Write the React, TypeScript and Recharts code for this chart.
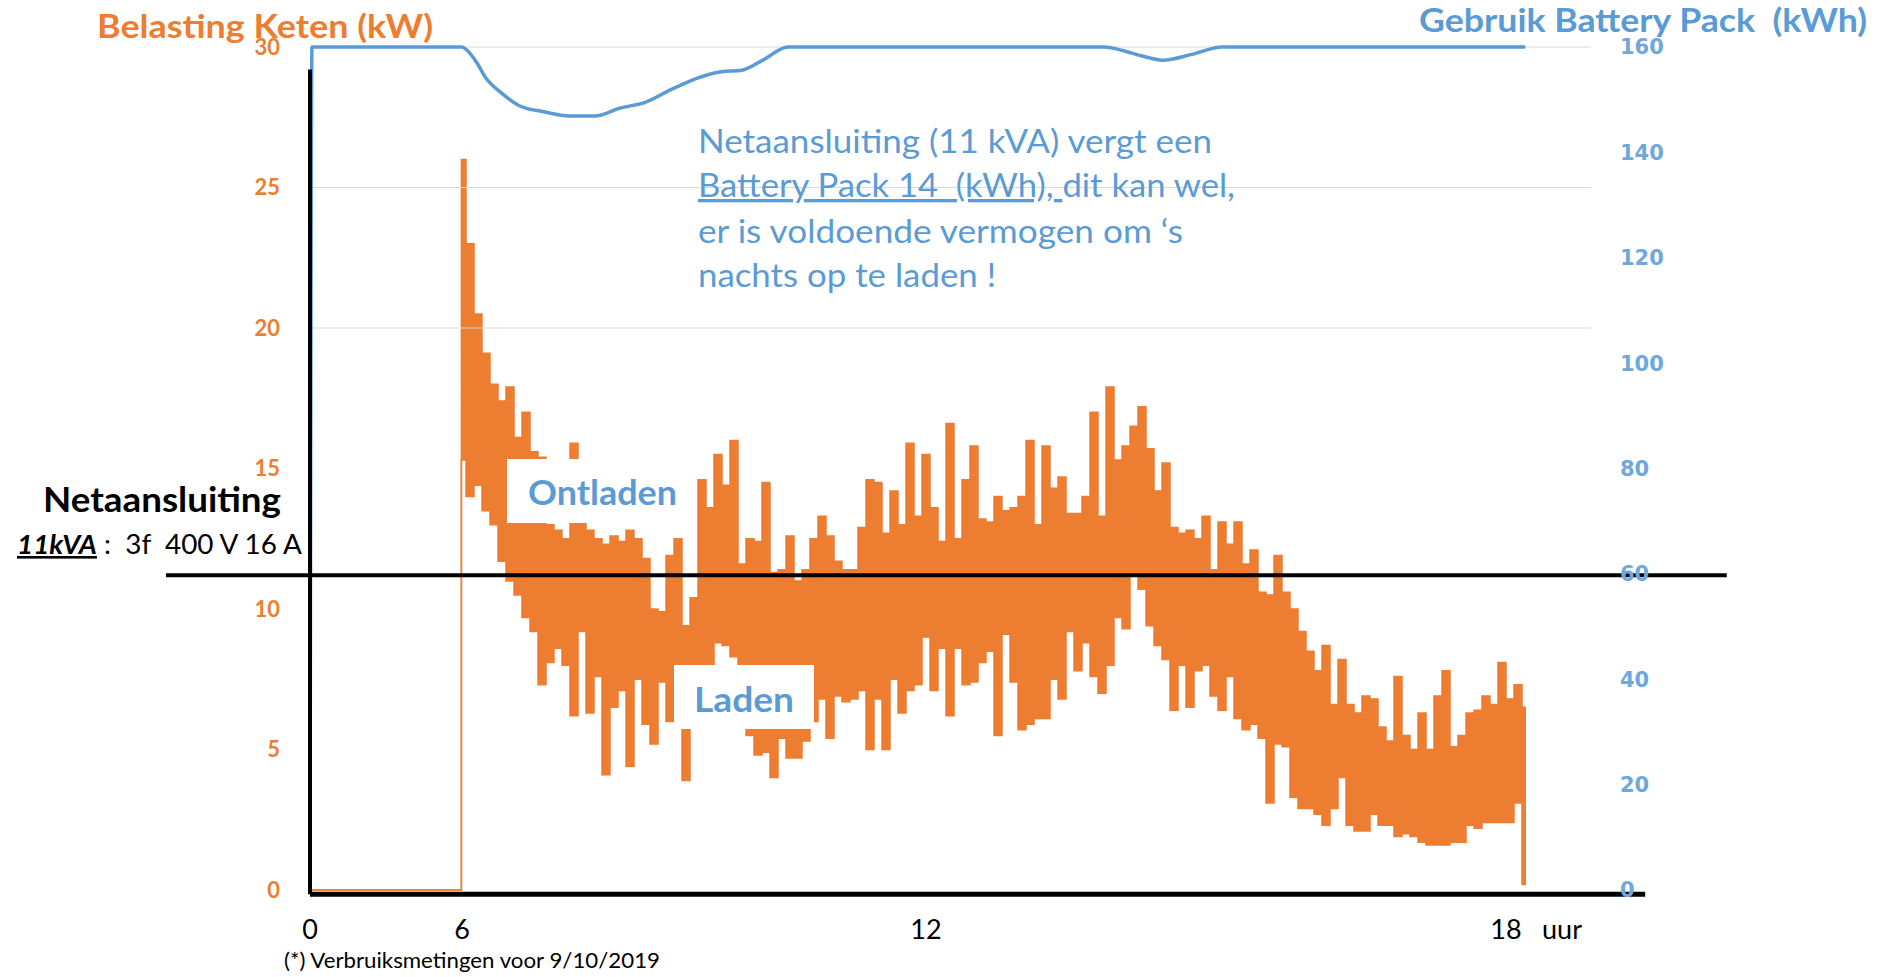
import React from "react";
import { ComposedChart, Area, Line, XAxis, YAxis, ReferenceLine } from "recharts";

const ORANGE = "#ED7D31";
const BLUE = "#5B9BD5";
const BLUE_TICK = "#6FA8DC";

// x = plot column step of the log; load is measured from step 19 (06:00) on
const loadStart = 19;
const idleSteps = [0, 18.85];

// per step: highest and lowest load (kW) seen in that column
const loadHigh = [
  26.0, 23.0, 20.5, 19.1, 18.0, 17.4, 17.9, 16.1, 17.0, 15.6,
  15.4, 13.0, 12.8, 12.5, 15.9, 15.3, 12.8, 12.5, 12.3, 12.6,
  12.4, 12.8, 12.5, 11.8, 10.0, 9.9, 11.9, 12.5, 9.4, 10.4,
  14.6, 13.6, 15.5, 14.4, 16.0, 11.6, 12.5, 12.4, 14.5, 11.3,
  11.4, 12.6, 11.0, 11.4, 12.5, 13.3, 12.6, 11.7, 11.4, 11.4,
  12.9, 14.6, 14.5, 12.7, 14.2, 13.0, 15.9, 13.3, 15.5, 13.6,
  12.4, 16.6, 12.5, 14.6, 15.8, 13.2, 13.1, 14.0, 13.5, 13.6,
  14.0, 16.0, 13.0, 15.8, 14.3, 14.7, 13.4, 13.4, 14.0, 17.0,
  13.3, 17.9, 15.3, 15.8, 16.5, 17.2, 15.7, 14.2, 15.2, 12.9,
  12.7, 12.8, 12.5, 13.3, 11.4, 13.1, 12.3, 13.1, 11.6, 12.1,
  10.6, 10.5, 11.9, 10.6, 10.0, 9.2, 8.5, 7.8, 8.7, 6.6,
  8.2, 6.6, 6.3, 6.9, 6.8, 5.8, 5.3, 7.6, 5.5, 5.0,
  6.3, 5.0, 6.9, 7.8, 5.1, 5.5, 6.3, 6.4, 6.9, 6.6,
  8.1, 6.8, 7.3, 6.5,
];
const loadLow = [
  15.3, 14.0, 14.4, 13.5, 13.0, 11.7, 11.0, 10.5, 9.7, 9.2,
  7.3, 8.1, 8.6, 8.0, 6.2, 9.2, 6.3, 7.6, 4.1, 6.5,
  7.1, 4.4, 7.5, 5.9, 5.2, 7.4, 6.0, 6.5, 3.9, 6.5,
  6.8, 7.6, 8.8, 8.7, 8.3, 6.5, 5.5, 4.8, 4.9, 4.0,
  5.4, 4.7, 4.7, 5.3, 6.0, 6.8, 5.4, 6.9, 6.7, 6.8,
  7.1, 5.0, 6.8, 5.0, 7.5, 6.3, 7.1, 7.3, 9.0, 7.1,
  8.6, 6.2, 8.6, 7.3, 7.4, 8.1, 8.5, 5.5, 9.1, 7.4,
  5.7, 5.9, 6.1, 6.1, 7.5, 6.8, 9.2, 7.8, 8.8, 7.6,
  7.0, 8.0, 9.7, 9.3, 11.2, 10.7, 9.4, 8.7, 8.2, 6.4,
  8.0, 6.5, 7.8, 8.0, 6.9, 6.4, 7.6, 6.1, 5.7, 5.9,
  5.4, 3.1, 5.2, 5.1, 3.3, 2.9, 2.9, 2.7, 2.3, 2.9,
  4.0, 2.3, 2.1, 2.1, 2.7, 2.3, 2.3, 1.9, 2.0, 1.9,
  1.7, 1.6, 1.6, 1.6, 1.7, 1.7, 2.3, 2.2, 2.4, 2.4,
  2.4, 2.4, 3.1, 0.2,
];

// battery pack content (kWh)
const batteryStep = [
  0, 0.25, 19, 19.75, 20.9, 21.9, 24, 26.1, 29.25, 32.4, 35.6, 38.75, 41.9,
  45, 48.25, 51.4, 54, 56.6, 59.75, 99.25, 101.9, 104, 106.6, 110.25, 114, 151.9,
];
const batteryKwh = [
  0, 160, 160, 159.2, 156.9, 154.3, 151.2, 148.9, 147.7, 146.9, 146.9, 148.4, 149.5,
  151.8, 154.0, 155.3, 155.6, 157.5, 160, 160, 159.2, 158.3, 157.5, 158.6, 160, 160,
];

const xTickPos = [0, 19, 77, 149.5, 156.5];
const xTickLabels = ["0", "6", "12", "18", "uur"];
const leftTicks = [0, 5, 10, 15, 20, 25, 30];
const rightTicks = [0, 20, 40, 60, 80, 100, 120, 140, 160];
const gridKw = [20, 25, 30];
const connectionKw = 11.2;

const loadData = [
  ...idleSteps.map((k) => ({ k, band: [0, 0] })),
  ...loadHigh.map((h, i) => ({ k: loadStart + i, band: [loadLow[i], h] })),
];
const batteryData = batteryStep.map((k, i) => ({ k, kwh: batteryKwh[i] }));

const pre = { whiteSpace: "pre" } as React.CSSProperties;

export default function App() {
  return (
    <div style={{ position: "relative", width: 1887, height: 977, fontFamily: "Lato", background: "#fff" }}>
      <style>{"body{margin:0}"}</style>
      <ComposedChart width={1887} height={977} margin={{ top: 47, right: 216, bottom: 47, left: 250 }}>
        <XAxis
          type="number"
          dataKey="k"
          domain={[0, 160.125]}
          ticks={xTickPos}
          tickFormatter={(v) => xTickLabels[xTickPos.indexOf(v)]}
          axisLine={false}
          tickLine={false}
          tickSize={0}
          tickMargin={30}
          height={40}
          tick={{ fill: "#000", fontSize: 27, fontFamily: "Lato" }}
        />
        <YAxis
          yAxisId="l"
          domain={[0, 30]}
          ticks={leftTicks}
          width={60}
          axisLine={false}
          tickLine={false}
          tickSize={0}
          tickMargin={30}
          tick={{ fill: ORANGE, fontSize: 22, fontWeight: 700, fontFamily: "Lato" }}
        />
        <YAxis
          yAxisId="r"
          orientation="right"
          domain={[0, 160]}
          ticks={rightTicks}
          width={80}
          axisLine={false}
          tickLine={false}
          tickSize={0}
          tickMargin={29}
          tick={{ fill: BLUE_TICK, fontSize: 21, fontWeight: 700, fontFamily: "DejaVu Sans" }}
        />
        {gridKw.map((v) => (
          <ReferenceLine key={v} yAxisId="l" y={v} stroke="#D9D9D9" strokeWidth={1} />
        ))}
        <Area
          yAxisId="l"
          data={loadData}
          dataKey="band"
          type="step"
          stroke={ORANGE}
          strokeWidth={1.5}
          fill={ORANGE}
          fillOpacity={1}
          dot={false}
          activeDot={false}
          isAnimationActive={false}
        />
        <Line
          yAxisId="r"
          data={batteryData}
          dataKey="kwh"
          type="monotone"
          stroke={BLUE}
          strokeWidth={3.5}
          dot={false}
          activeDot={false}
          isAnimationActive={false}
        />
        <ReferenceLine
          yAxisId="l"
          segment={[{ x: -18, y: connectionKw }, { x: 177.1, y: connectionKw }]}
          stroke="#000"
          strokeWidth={4}
          ifOverflow="visible"
        />
        <ReferenceLine
          yAxisId="l"
          segment={[{ x: 0, y: -0.15 }, { x: 0, y: 29.2 }]}
          stroke="#000"
          strokeWidth={4}
          ifOverflow="visible"
        />
        <ReferenceLine
          yAxisId="l"
          segment={[{ x: 0, y: -0.15 }, { x: 166.9, y: -0.15 }]}
          stroke="#000"
          strokeWidth={5}
          ifOverflow="visible"
        />
      </ComposedChart>

      <svg
        width={1887}
        height={977}
        style={{ position: "absolute", left: 0, top: 0, pointerEvents: "none" }}
        fontFamily="Lato"
      >
        <text x={97} y={38} fontSize={33} fontWeight={700} fill={ORANGE} textLength={336} lengthAdjust="spacingAndGlyphs">
          Belasting Keten (kW)
        </text>
        <text
          x={1419}
          y={32}
          fontSize={33}
          fontWeight={700}
          fill={BLUE}
          style={pre}
          xmlSpace="preserve"
          textLength={448}
          lengthAdjust="spacingAndGlyphs"
        >
          {"Gebruik Battery Pack  (kWh)"}
        </text>

        <g fontSize={33} fill={BLUE}>
          <text x={698} y={153} textLength={514} lengthAdjust="spacingAndGlyphs">
            Netaansluiting (11 kVA) vergt een
          </text>
          <text x={698} y={197} style={pre} xmlSpace="preserve" textLength={537} lengthAdjust="spacingAndGlyphs">
            <tspan textDecoration="underline">{"Battery Pack 14  (kWh), "}</tspan>
            <tspan>dit kan wel,</tspan>
          </text>
          <text x={698} y={243} textLength={485} lengthAdjust="spacingAndGlyphs">
            er is voldoende vermogen om ‘s
          </text>
          <text x={698} y={287} textLength={298} lengthAdjust="spacingAndGlyphs">
            nachts op te laden !
          </text>
        </g>

        <text x={43} y={512} fontSize={34} fontWeight={700} fill="#000" textLength={238} lengthAdjust="spacingAndGlyphs">
          Netaansluiting
        </text>
        <text
          x={17}
          y={554}
          fontSize={26}
          fill="#000"
          style={pre}
          xmlSpace="preserve"
          textLength={285}
          lengthAdjust="spacingAndGlyphs"
        >
          <tspan fontWeight={700} fontStyle="italic" textDecoration="underline">
            11kVA
          </tspan>
          <tspan>{" :  3f  400 V 16 A"}</tspan>
        </text>

        <rect x={507} y={459} width={186} height={64} fill="#fff" />
        <text x={528} y={505} fontSize={34} fontWeight={700} fill={BLUE} textLength={149} lengthAdjust="spacingAndGlyphs">
          Ontladen
        </text>
        <rect x={674} y={665} width={140} height={64} fill="#fff" />
        <text x={694} y={712} fontSize={34} fontWeight={700} fill={BLUE} textLength={100} lengthAdjust="spacingAndGlyphs">
          Laden
        </text>

        <text x={284} y={968} fontSize={22} fill="#000" textLength={376} lengthAdjust="spacingAndGlyphs">
          (*) Verbruiksmetingen voor 9/10/2019
        </text>
      </svg>
    </div>
  );
}
